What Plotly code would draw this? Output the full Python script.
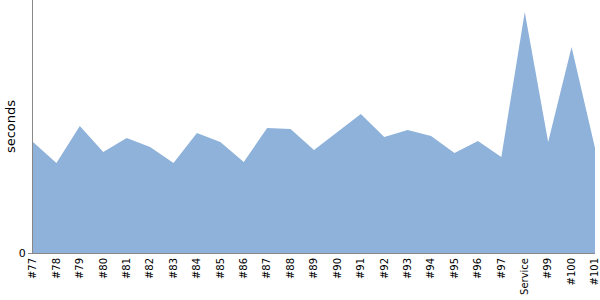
import plotly.graph_objects as go

labels = ["#77", "#78", "#79", "#80", "#81", "#82", "#83", "#84", "#85", "#86",
          "#87", "#88", "#89", "#90", "#91", "#92", "#93", "#94", "#95", "#96",
          "#97", "Service", "#99", "#100", "#101"]
seconds = [111, 90, 127, 101, 115, 106, 90, 120, 111, 91,
           125, 124, 103, 121, 139, 116, 123, 117, 100, 112,
           96, 241, 111, 206, 105]
y_max = 253

fig = go.Figure()
fig.add_trace(go.Scatter(
    x=labels, y=seconds, mode="lines", fill="tozeroy",
    line=dict(width=0, color="#8FB2DA"),
    fillcolor="#8FB2DA",
))
fig.update_layout(
    width=600, height=300,
    margin=dict(l=33, r=5, t=0, b=47),
    plot_bgcolor="white", paper_bgcolor="white",
    showlegend=False,
    font=dict(family="DejaVu Sans", size=10, color="black"),
)
fig.update_xaxes(
    type="category", range=[0, len(labels) - 1],
    tickangle=-90, showgrid=False, zeroline=False,
    showline=True, linecolor="#888888", linewidth=1,
    ticks="", tickfont=dict(size=10),
)
fig.update_yaxes(
    range=[0, y_max], tickvals=[0], ticktext=["0"],
    showgrid=False, zeroline=False,
    showline=True, linecolor="#888888", linewidth=1,
    ticks="outside", ticklen=4, tickcolor="#888888",
    title=dict(text="seconds", font=dict(size=13), standoff=0),
    tickfont=dict(size=11),
)
fig.write_html("out.html")
